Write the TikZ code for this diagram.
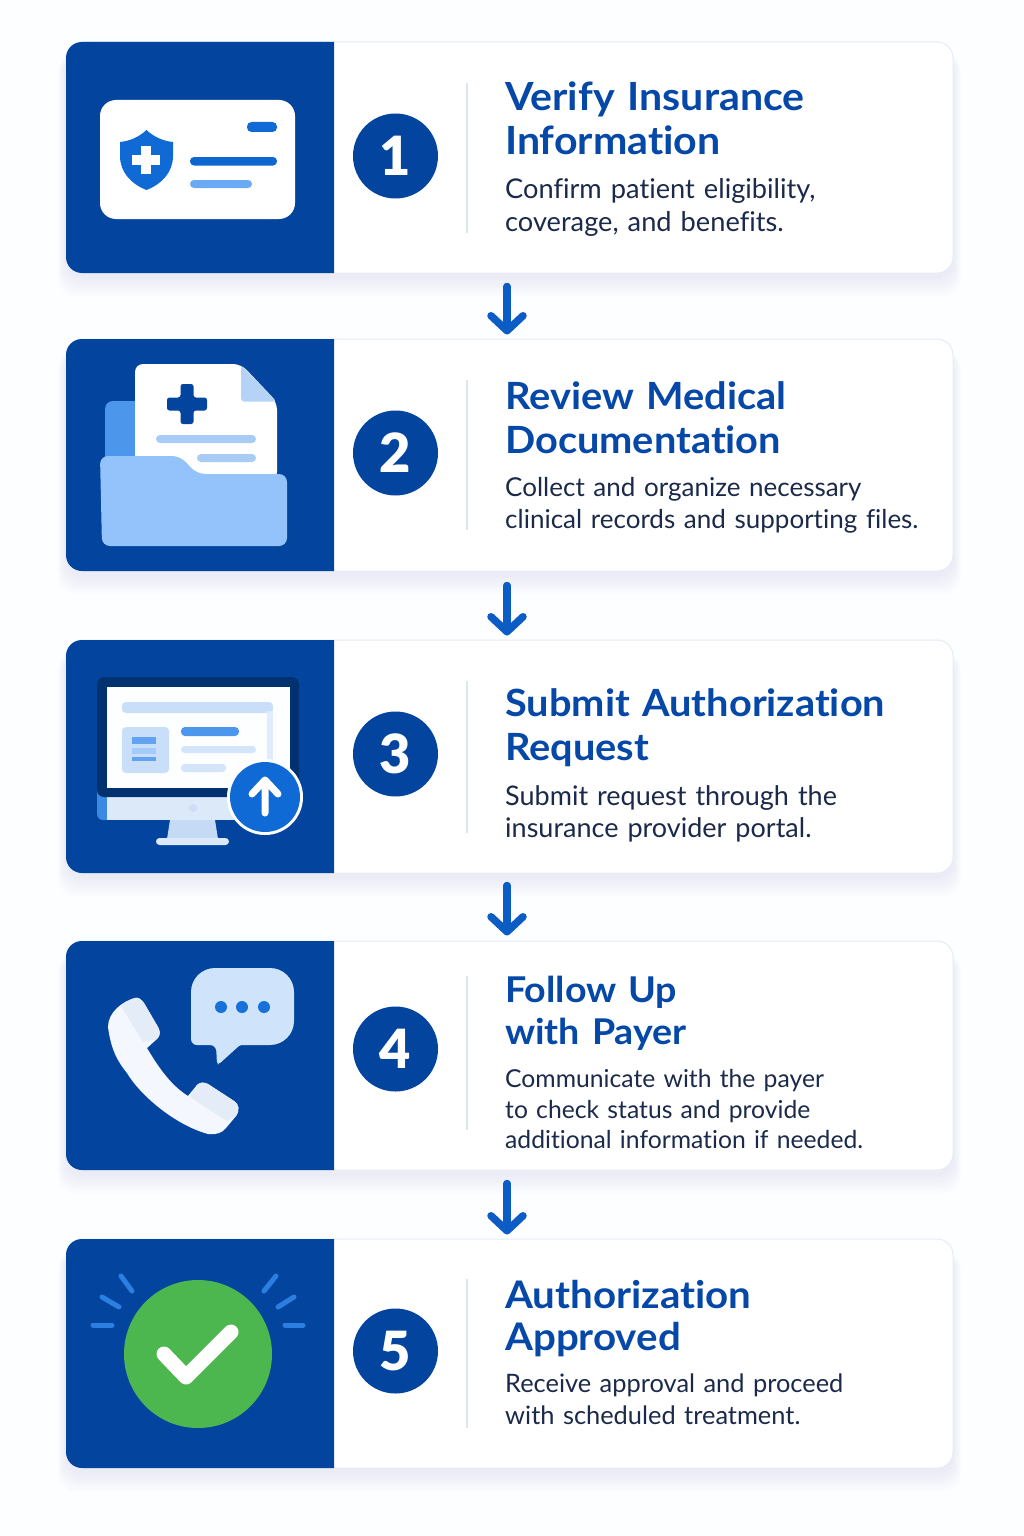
\documentclass[tikz,border=0pt]{standalone}
\usepackage{fontspec}
\setmainfont{Lato}[Ligatures=NoCommon]
\newfontfamily\titlefam{Lato}[Ligatures=NoCommon,FakeStretch=1.06,WordSpace=0.8]
\newfontfamily\numfam{Lato Black}
\usetikzlibrary{arrows.meta,calc}
\definecolor{navy}{HTML}{03459E}
\definecolor{titlec}{HTML}{0648A8}
\definecolor{bgc}{HTML}{FDFEFF}
\definecolor{edgec}{HTML}{E4ECF7}
\definecolor{sepc}{HTML}{DCE6F2}
\definecolor{arrowc}{HTML}{0B5CC4}
\definecolor{bodyc}{HTML}{1B2A4A}
\definecolor{midblue}{HTML}{0F6AD6}
\definecolor{softblue}{HTML}{6AA9F4}
\definecolor{paleblue}{HTML}{C9DFF9}
\definecolor{folderc}{HTML}{93C3FA}
\definecolor{folderb}{HTML}{4C97EC}
\definecolor{foldc}{HTML}{B5D3F7}
\definecolor{linec}{HTML}{A9CCF6}
\definecolor{bezel}{HTML}{02316F}
\definecolor{chin}{HTML}{DCE9F9}
\definecolor{standc}{HTML}{C5DAF4}
\definecolor{bubble}{HTML}{CFE3FA}
\definecolor{phonec}{HTML}{F4F7FD}
\definecolor{phoned}{HTML}{E4ECF8}
\definecolor{greenc}{HTML}{4CB74E}
\definecolor{rayc}{HTML}{2A7FE0}
\tikzset{
  card/.style={draw=edgec,line width=1pt,fill=white,rounded corners=16pt,inner sep=0pt,minimum width=887pt},
  panel/.style={fill=navy},
  numdisc/.style={circle,fill=navy,text=white,minimum size=85pt,inner sep=0pt,font=\numfam\fontsize{54}{54}\selectfont},
  titletext/.style={anchor=base west,inner sep=0pt,text=titlec,text width=440pt,align=left},
  bodytext/.style={anchor=base west,inner sep=0pt,text=bodyc,text width=440pt,align=left},
  sepline/.style={draw=sepc,line width=2pt},
  flowarrow/.style={draw=arrowc,line width=7.5pt,line cap=round,-{Straight Barb[length=15pt,width=32pt,line width=7.5pt,round]}}
}
\newcommand{\titlesize}[2]{\titlefam\bfseries\fontsize{#1}{#2}\selectfont}
\newcommand{\bodysize}[2]{\fontsize{#1}{#2}\selectfont}
\newcommand{\stepcard}[7]{%
  % n, top, bottom, discy, septop, sepbot, number drop
  \foreach \s in {1,...,9}{\fill[blue!40!gray,opacity=0.006,rounded corners=18pt] (66-\s*0.9,#2+12) rectangle (953+\s*0.9,#3+4+\s*2.2);}
  \node[card,minimum height=#3pt-#2pt] (card#1) at (509.5,{(#2+#3)/2}) {};
  \fill[panel] (334,#2) [rounded corners=16pt] -- (66,#2) -- (66,#3) [sharp corners] -- (334,#3) -- cycle;
  \node[numdisc] (num#1) at (395.5,#4) {\raisebox{-#7pt}{#1}};
  \draw[sepline] (467,#5) -- (467,#6);
}
\begin{document}
\begin{tikzpicture}[x=1pt,y=-1pt]
\useasboundingbox (0,0) rectangle (1024,1536);
\fill[bgc] (0,0) rectangle (1024,1536);
\stepcard{1}{42}{273}{156}{83}{233}{1}
\stepcard{2}{339}{571}{453}{380}{530}{2}
\stepcard{3}{640}{873}{754}{681}{833}{1}
\stepcard{4}{941}{1170}{1049}{976}{1130}{1}
\stepcard{5}{1239}{1468}{1351}{1279}{1428}{2}
% connectors
\draw[flowarrow] ($(card1.south)+(-2.5,13)$) -- ($(card2.north)+(-2.5,-4)$);
\draw[flowarrow] ($(card2.south)+(-2.5,14)$) -- ($(card3.north)+(-2.5,-4)$);
\draw[flowarrow] ($(card3.south)+(-2.5,12)$) -- ($(card4.north)+(-2.5,-5)$);
\draw[flowarrow] ($(card4.south)+(-2.5,13)$) -- ($(card5.north)+(-2.5,-4)$);
% texts
\node[titletext,font=\titlesize{38.8}{44}] (title1) at (505,110.5) {Verify Insurance\\Information};
\node[bodytext,font=\bodysize{27.2}{33}] (body1) at (505,198.5) {Confirm patient eligibility,\\coverage, and benefits.};
\node[titletext,font=\titlesize{37.5}{43.5}] (title2) at (505,409.5) {Review Medical\\Documentation};
\node[bodytext,font=\bodysize{26}{32.5}] (body2) at (505,496) {Collect and organize necessary\\clinical records and supporting files.};
\node[titletext,font=\titlesize{37.5}{43.5}] (title3) at (505,716.5) {Submit Authorization\\Request};
\node[bodytext,font=\bodysize{27}{32.5}] (body3) at (505,805) {Submit request through the\\insurance provider portal.};
\node[titletext,font=\titlesize{35.5}{42}] (title4) at (505,1002.5) {Follow Up\\with Payer};
\node[bodytext,font=\bodysize{24.7}{30.5}] (body4) at (505,1087.5) {Communicate with the payer\\to check status and provide\\additional information if needed.};
\node[titletext,font=\titlesize{38}{42}] (title5) at (505,1308.5) {Authorization\\Approved};
\node[bodytext,font=\bodysize{25.4}{32}] (body5) at (505,1392.5) {Receive approval and proceed\\with scheduled treatment.};
% icon 1
\fill[white,rounded corners=16pt] (100,100) rectangle (295,219);
\fill[midblue] (146.5,130) .. controls (154,137) and (163,141) .. (173,142) -- (173,156) .. controls (173,172) and (162,184) .. (146.5,190) .. controls (131,184) and (120,172) .. (120,156) -- (120,142) .. controls (130,141) and (139,137) .. (146.5,130) -- cycle;
\fill[white] (141,146) rectangle (151,174);
\fill[white] (132,155) rectangle (160,165);
\fill[midblue,rounded corners=4.5pt] (247,122) rectangle (277,132);
\fill[midblue!90!navy,rounded corners=4pt] (190,157) rectangle (277,165.5);
\fill[softblue,rounded corners=4pt] (190,180) rectangle (252,188);
% icon 2
\fill[folderb,rounded corners=8pt] (105,470) -- (105,401) -- (150,401) -- (150,470) -- cycle;
\fill[white,rounded corners=8pt] (135,480) -- (135,364) -- (241,364) -- (277,402) -- (277,480) -- cycle;
\fill[foldc,rounded corners=3pt] (241,365) -- (276.5,401.5) -- (241,401.5) -- cycle;
\fill[navy,rounded corners=2.5pt] (180.5,384) -- (193.5,384) -- (193.5,397.5) -- (207,397.5) -- (207,410.5) -- (193.5,410.5) -- (193.5,424) -- (180.5,424) -- (180.5,410.5) -- (167,410.5) -- (167,397.5) -- (180.5,397.5) -- cycle;
\fill[linec,rounded corners=4pt] (156,435) rectangle (256,443);
\fill[linec,rounded corners=4pt] (197,454) rectangle (256,462);
\fill[folderc,rounded corners=8pt] (102,546) -- (100,456) -- (180,456) -- (197,474) -- (287,474) -- (287,546) -- cycle;
% icon 3
\fill[folderb!70!midblue,rounded corners=6pt] (97,770) rectangle (112,820);
\fill[chin] (107,797) rectangle (295,820);
\fill[standc!70!chin] (193,808) circle[radius=4];
\fill[bezel,rounded corners=7pt] (97,677) rectangle (299,797);
\fill[white!97!paleblue] (107,687) rectangle (290,788);
\fill[paleblue,rounded corners=4pt] (122,702) rectangle (273,713);
\fill[paleblue!60] (267,711) rectangle (273,760);
\fill[paleblue,rounded corners=4pt] (122,727) rectangle (169,773);
\fill[softblue!90!midblue] (132,737) rectangle (156,744);
\fill[softblue!60] (132,748) rectangle (156,754);
\fill[softblue!90!midblue] (132,757) rectangle (156,761);
\fill[folderb,rounded corners=4pt] (181,727) rectangle (239,736);
\fill[paleblue!80,rounded corners=3.5pt] (181,746) rectangle (256,753);
\fill[paleblue!80,rounded corners=3.5pt] (181,764) rectangle (226,772);
\fill[standc] (170,820) -- (215,820) -- (218,839) -- (167,839) -- cycle;
\fill[chin,rounded corners=3.5pt] (156,838) rectangle (229,845);
\fill[white] (265,797) circle[radius=38];
\fill[midblue] (265,797) circle[radius=35];
\draw[white,line width=7pt,line cap=round,line join=round] (265,813) -- (265,780) (252,794) -- (265,780) -- (278,794);
% icon 4
\fill[bubble,rounded corners=24pt] (191,968) rectangle (294,1045);
\fill[bubble,rounded corners=6pt] (191,1010) -- (191,1045) -- (216,1045) [rounded corners=2pt] -- (217,1064) -- (219,1064) -- (240,1045) -- (260,1040) -- (200,1010) -- cycle;
\fill[midblue!90!softblue] (221,1007) circle[radius=6];
\fill[midblue!90!softblue] (242,1007) circle[radius=6];
\fill[midblue!90!softblue] (264,1007) circle[radius=6];
\fill[phonec] (135,998) .. controls (123,1001) and (108,1012) .. (108,1027)
  .. controls (111,1050) and (118,1062) .. (127,1073)
  .. controls (140,1095) and (175,1125) .. (208,1134)
  .. controls (216,1135) and (222,1133) .. (226,1128)
  -- (236,1116) .. controls (240,1110) and (239,1104) .. (234,1101)
  -- (208,1084) .. controls (204,1082) and (200,1082) .. (197,1085)
  -- (188,1096) .. controls (172,1086) and (160,1070) .. (147,1048)
  -- (157,1039) .. controls (161,1035) and (160,1031) .. (158,1027)
  -- (144,1003) .. controls (141,999) and (138,997) .. (135,998) -- cycle;
\fill[phoned] (135,998) .. controls (130,999) and (127,1002) .. (121,1006) -- (143,1042) -- (157,1039) .. controls (161,1035) and (160,1031) .. (158,1027) -- (144,1003) .. controls (141,999) and (138,997) .. (135,998) -- cycle;
\fill[phoned] (190,1097) -- (227,1121) -- (236,1116) .. controls (240,1110) and (239,1104) .. (234,1101) -- (208,1084) .. controls (204,1082) and (200,1082) .. (197,1085) -- cycle;
% icon 5
\fill[greenc] (198,1354) circle[radius=74];
\draw[white,line width=15pt,line cap=round,line join=round] (164,1354) -- (186,1377) -- (231,1332);
\foreach \a/\b/\c/\d in {93/1325/112/1325,102/1297/119/1307,121/1276/132/1291,264/1291/276/1276,278/1307/294/1297,285/1325/303/1325}{
  \draw[rayc,line width=5pt,line cap=round] (\a,\b) -- (\c,\d);}
\end{tikzpicture}
\end{document}
